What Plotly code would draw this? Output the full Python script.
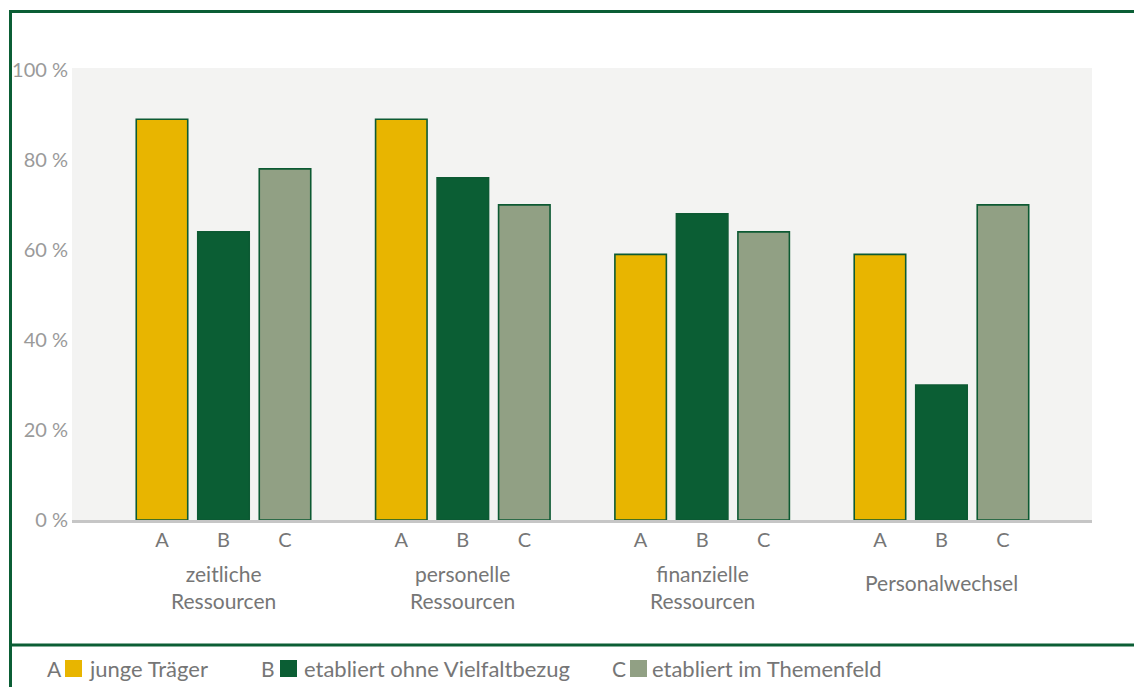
import plotly.graph_objects as go

groups = ["zeitliche<br>Ressourcen", "personelle<br>Ressourcen", "finanzielle<br>Ressourcen", "Personalwechsel"]
series_keys = ["A", "B", "C"]
series_names = ["junge Träger", "etabliert ohne Vielfaltbezug", "etabliert im Themenfeld"]
values_A = [89, 89, 59, 59]
values_B = [64, 76, 68, 30]
values_C = [78, 70, 64, 70]
y_ticks = [0, 20, 40, 60, 80, 100]

colors = ["#e8b500", "#0b5e34", "#91a084"]
outline = "#0d5a33"
frame = "#0b5e35"
txt = "#767676"
font_family = "Lato, 'Open Sans', sans-serif"

bargap = 0.229
bargroupgap = 0.163
slot = (1 - bargap) / 3

x_pos = list(range(len(groups)))
fig = go.Figure()
for k, vals in enumerate([values_A, values_B, values_C]):
    fig.add_trace(go.Bar(
        x=x_pos, y=vals, name=series_names[k],
        marker=dict(color=colors[k], line=dict(color=outline, width=1.6)),
        showlegend=False, hoverinfo="y",
    ))

tickvals, ticktext = [], []
for i in x_pos:
    for k, key in enumerate(series_keys):
        tickvals.append(i + (k - 1) * slot)
        ticktext.append(key)

# geometry (pixels)
W, H = 1134, 687
L, R, T, B = 72, 42, 68, 167
pw, ph = W - L - R, H - T - B
def px(xp):
    return (xp - L) / pw
def py(yp):
    return (H - B - yp) / ph

annotations = []
for i, g in enumerate(groups):
    annotations.append(dict(
        x=i, xref="x", y=py(587 if "<br>" in g else 582), yref="paper", text=g, showarrow=False,
        font=dict(size=21, color=txt, family=font_family), align="center",
        xanchor="center", yanchor="middle",
    ))

shapes = [
    dict(type="line", xref="paper", yref="paper", x0=px(9), x1=px(1140), y0=py(11.5), y1=py(11.5),
         line=dict(color=frame, width=3)),
    dict(type="line", xref="paper", yref="paper", x0=px(10.5), x1=px(10.5), y0=py(10), y1=py(700),
         line=dict(color=frame, width=3)),
    dict(type="line", xref="paper", yref="paper", x0=px(9), x1=px(1140), y0=py(645), y1=py(645),
         line=dict(color=frame, width=3)),
]

legend_x = [(45, 65, 87), (259, 280, 302), (610, 630, 650)]
ly = 668
for k in range(3):
    kx, sx, tx = legend_x[k]
    annotations.append(dict(x=px(kx), xref="paper", y=py(ly), yref="paper", text=series_keys[k],
                            showarrow=False, xanchor="left", yanchor="middle",
                            font=dict(size=21, color=txt, family=font_family)))
    shapes.append(dict(type="rect", xref="paper", yref="paper", x0=px(sx), x1=px(sx + 17),
                       y0=py(ly + 9), y1=py(ly - 8), fillcolor=colors[k], line=dict(width=0)))
    annotations.append(dict(x=px(tx), xref="paper", y=py(ly), yref="paper", text=series_names[k],
                            showarrow=False, xanchor="left", yanchor="middle",
                            font=dict(size=22, color=txt, family=font_family)))

fig.update_layout(
    width=W, height=H,
    margin=dict(l=L, r=R, t=T, b=B, pad=0),
    paper_bgcolor="white", plot_bgcolor="#f3f3f2",
    barmode="group", bargap=bargap, bargroupgap=bargroupgap,
    font=dict(family=font_family, color=txt),
    xaxis=dict(range=[-0.633, 3.629], tickmode="array", tickvals=tickvals, ticktext=ticktext,
               showgrid=False, zeroline=False, showline=True, linecolor="#c6c6c6", linewidth=3,
               ticks="", tickfont=dict(size=20, color=txt, family=font_family), ticklabelstandoff=0),
    yaxis=dict(range=[0, 100.4], tickmode="array", tickvals=y_ticks,
               ticktext=[f"{v} %" for v in y_ticks],
               showgrid=False, zeroline=False, showline=False, ticks="",
               tickfont=dict(size=20, color="#9a9a9a", family=font_family), ticklabelstandoff=3),
    annotations=annotations, shapes=shapes,
)

fig.write_html("out.html", config={"displayModeBar": False},
               post_script="document.body.style.margin='0';document.body.style.overflow='hidden';")
